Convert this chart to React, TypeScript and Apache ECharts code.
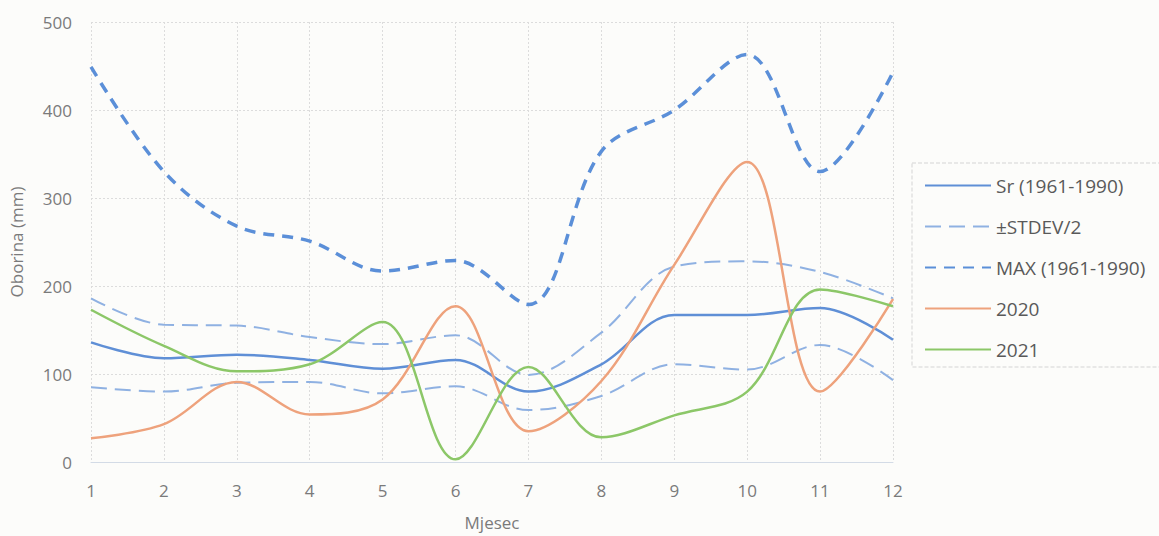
import React, { useEffect, useRef } from "react";
import * as echarts from "echarts";

// Monthly precipitation (mm)
const months = ["1", "2", "3", "4", "5", "6", "7", "8", "9", "10", "11", "12"];
const srMean = [136, 118, 122, 116, 106, 116, 80, 111, 167, 167, 175, 139];
const stdUpper = [186, 156, 155, 142, 134, 144, 99, 147, 222, 228, 216, 186];
const stdLower = [85, 80, 90, 91, 78, 86, 59, 75, 111, 105, 133, 93];
const maxVals = [449, 330, 268, 251, 217, 229, 179, 353, 400, 463, 330, 443];
const y2020 = [27, 43, 91, 54, 71, 177, 35, 92, 224, 341, 80, 185];
const y2021 = [173, 132, 103, 111, 159, 3, 108, 28, 53, 80, 196, 177];
const yTicks = [0, 100, 200, 300, 400, 500];

const FONT = "'Open Sans', 'Noto Sans', sans-serif";
const TEXT = "#7a7a7a";

export default function App() {
  const ref = useRef<HTMLDivElement>(null);

  useEffect(() => {
    document.body.style.margin = "0";
    const chart = echarts.init(ref.current!, null, { renderer: "svg" });
    const line = (name: string, data: number[], color: string, width: number, type: any) => ({
      name,
      type: "line",
      data,
      smooth: 0.35,
      symbol: "none",
      lineStyle: { color, width, type },
      itemStyle: { color },
    });
    chart.setOption({
      animation: false,
      backgroundColor: "#fcfcfa",
      textStyle: { fontFamily: FONT },
      grid: { left: 91, right: 266, top: 22, bottom: 73 },
      legend: {
        orient: "vertical",
        left: 912,
        top: 163,
        itemWidth: 66,
        itemHeight: 14,
        itemGap: 22,
        padding: [13, 60, 8, 12],
        borderColor: "#d4d4d4",
        borderWidth: 1,
        borderType: "dashed",
        itemStyle: { opacity: 0 },
        textStyle: { color: "#595959", fontSize: 19, fontFamily: FONT },
        data: ["Sr (1961-1990)", "±STDEV/2", "MAX (1961-1990)", "2020", "2021"],
      },
      xAxis: {
        type: "category",
        data: months,
        boundaryGap: false,
        name: "Mjesec",
        nameLocation: "middle",
        nameGap: 52,
        nameTextStyle: { color: TEXT, fontSize: 17 },
        axisLine: { show: true, lineStyle: { color: "#d3dbe6", width: 1 } },
        axisTick: { show: false },
        axisLabel: { color: TEXT, fontSize: 17, margin: 20 },
        splitLine: { show: true, lineStyle: { color: "#dcdcdc", type: [2, 2] } },
      },
      yAxis: {
        type: "value",
        min: yTicks[0],
        max: yTicks[yTicks.length - 1],
        interval: 100,
        name: "Oborina (mm)",
        nameLocation: "middle",
        nameGap: 66,
        nameTextStyle: { color: TEXT, fontSize: 17 },
        axisLine: { show: false },
        axisTick: { show: false },
        axisLabel: { color: TEXT, fontSize: 17, margin: 19 },
        splitLine: { show: true, lineStyle: { color: "#dcdcdc", type: [2, 2] } },
      },
      series: [
        line("Sr (1961-1990)", srMean, "#5f8fd6", 2.5, "solid"),
        line("±STDEV/2", stdUpper, "#8fb1e2", 2, [16, 8]),
        line("±STDEV/2", stdLower, "#8fb1e2", 2, [16, 8]),
        line("MAX (1961-1990)", maxVals, "#5b8fd8", 3.5, [11, 8]),
        line("2020", y2020, "#eea27c", 2.5, "solid"),
        line("2021", y2021, "#8cc768", 2.5, "solid"),
      ],
    });
    return () => chart.dispose();
  }, []);

  return <div ref={ref} style={{ width: 1159, height: 536 }} />;
}
